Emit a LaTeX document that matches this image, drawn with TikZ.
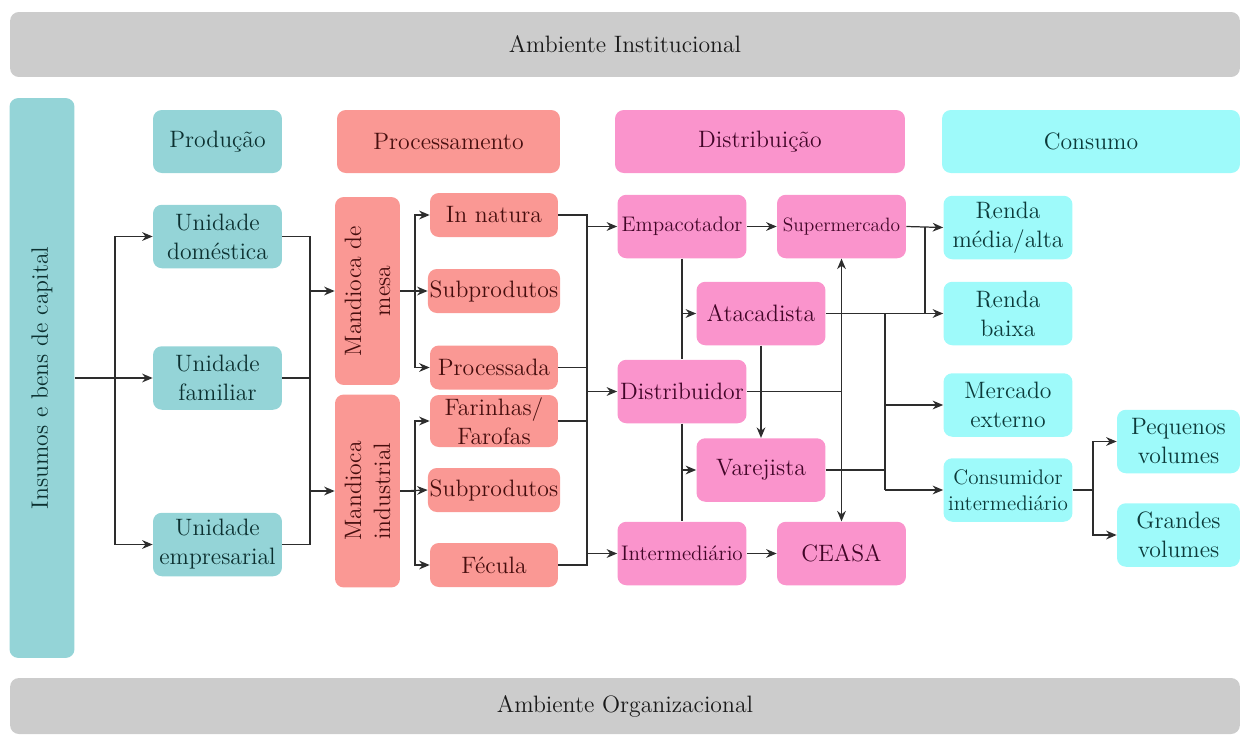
\documentclass[tikz,border=0pt]{standalone}
\usetikzlibrary{arrows.meta}
\definecolor{cteal}{RGB}{148,212,215}
\definecolor{csalmon}{RGB}{250,152,148}
\definecolor{cpink}{RGB}{250,148,204}
\definecolor{ccyan}{RGB}{158,250,250}
\definecolor{cgray}{RGB}{204,204,204}
\definecolor{tteal}{RGB}{12,48,48}
\definecolor{tsalmon}{RGB}{70,14,14}
\definecolor{tpink}{RGB}{66,6,40}
\definecolor{tcyan}{RGB}{12,58,58}
\definecolor{cline}{RGB}{45,45,45}
\begin{document}
\begin{tikzpicture}[x=0.02cm, y=-0.02cm]
    \tikzstyle{box} = [rounded corners=5pt, align=center, inner sep=1pt, font=\fontsize{13.5}{16.5}\selectfont]
    \tikzstyle{prod} = [box, fill=cteal, text=tteal]
    \tikzstyle{proc} = [box, fill=csalmon, text=tsalmon]
    \tikzstyle{dist} = [box, fill=cpink, text=tpink]
    \tikzstyle{cons} = [box, fill=ccyan, text=tcyan]
    \tikzstyle{band} = [box, fill=cgray, text=black!90, minimum width=24.6cm, font=\fontsize{13.5}{16}\selectfont]
    \tikzstyle{head} = [minimum height=1.26cm]
    \tikzstyle{tall} = [minimum width=2.58cm, minimum height=1.27cm]
    \tikzstyle{flat} = [minimum width=2.56cm, minimum height=0.88cm]
    \tikzstyle{small} = [font=\fontsize{12}{14.5}\selectfont]
    \tikzstyle{link} = [draw=cline, line width=0.7pt]
    \tikzstyle{arr} = [link, -{Stealth[length=6pt, width=5pt]}]
    \useasboundingbox (0,0) rectangle (1245,738);
    % ambientes
    \node[band, minimum height=1.3cm] (inst) at (625,44.5) {Ambiente Institucional};
    \node[band, minimum height=1.12cm] (org) at (625,706) {Ambiente Organizacional};
    \node[prod, rotate=90, minimum width=11.2cm, minimum height=1.3cm] (ins) at (42,378) {Insumos e bens de capital};
    % cabecalhos
    \node[prod, head, minimum width=2.58cm] (hprod) at (217.5,141.5) {Produção};
    \node[proc, head, minimum width=4.46cm] (hproc) at (448.5,141.5) {Processamento};
    \node[dist, head, minimum width=5.8cm] (hdist) at (760,141.5) {Distribuição};
    \node[cons, head, minimum width=5.96cm] (hcons) at (1091,141.5) {Consumo};
    % producao
    \node[prod, tall] (udom) at (217.5,236.5) {Unidade\\doméstica};
    \node[prod, tall] (ufam) at (217.5,378) {Unidade\\familiar};
    \node[prod, tall] (uemp) at (217.5,544.5) {Unidade\\empresarial};
    % processamento
    \node[proc, rotate=90, minimum width=3.76cm, minimum height=1.3cm] (mesa) at (367.5,291) {Mandioca de\\mesa};
    \node[proc, rotate=90, minimum width=3.86cm, minimum height=1.3cm] (ind) at (367.5,491) {Mandioca\\industrial};
    \node[proc, flat] (innat) at (494,215) {In natura};
    \node[proc, flat] (sub1) at (494,291) {Subprodutos};
    \node[proc, flat] (pro) at (494,367.5) {Processada};
    \node[proc, flat, minimum height=1.04cm] (far) at (494,421) {Farinhas/\\Farofas};
    \node[proc, flat] (sub2) at (494,490) {Subprodutos};
    \node[proc, flat] (fec) at (494,565) {Fécula};
    % distribuicao
    \node[dist, tall, small] (empac) at (682,226.5) {Empacotador};
    \node[dist, tall, font=\fontsize{11}{13}\selectfont] (super) at (841.5,226.5) {Supermercado};
    \node[dist, tall] (atac) at (761,313.5) {Atacadista};
    \node[dist, tall] (distr) at (682,391.5) {Distribuidor};
    \node[dist, tall] (varej) at (761,470) {Varejista};
    \node[dist, tall, small] (inter) at (682,553.5) {Intermediário};
    \node[dist, tall] (ceasa) at (841.5,553.5) {CEASA};
    % consumo
    \node[cons, tall] (rmed) at (1008,227.5) {Renda\\média/alta};
    \node[cons, tall] (rbai) at (1008,313.5) {Renda\\baixa};
    \node[cons, tall] (merc) at (1008,405) {Mercado\\externo};
    \node[cons, tall, small] (cint) at (1008,490) {Consumidor\\intermediário};
    \node[cons, tall, minimum width=2.46cm] (peq) at (1178.5,441.5) {Pequenos\\volumes};
    \node[cons, tall, minimum width=2.46cm] (gra) at (1178.5,535) {Grandes\\volumes};
    % ligacoes
    \coordinate (j1) at (115,378);
    \coordinate (j2) at (310,0);
    \coordinate (j3) at (415,0);
    \coordinate (j4) at (587,0);
    \coordinate (j5) at (925,0);
    \coordinate (j6) at (885,0);
    \coordinate (j7) at (1093,0);
    \draw[link] (ins.south |- j1) -- (j1);
    \draw[arr] (j1) |- (udom.west);
    \draw[arr] (j1) -- (ufam.west);
    \draw[arr] (j1) |- (uemp.west);
    \draw[link] (udom.east) -- (udom.east -| j2) -- (uemp.east -| j2) -- (uemp.east);
    \draw[link] (ufam.east) -- (ufam.east -| j2);
    \draw[arr] (mesa.north -| j2) -- (mesa.north);
    \draw[arr] (ind.north -| j2) -- (ind.north);
    \draw[link] (mesa.south) -- (mesa.south -| j3);
    \draw[arr] (mesa.south -| j3) |- (innat.west);
    \draw[arr] (mesa.south) -- (sub1.west);
    \draw[arr] (mesa.south -| j3) |- (pro.west);
    \draw[link] (ind.south) -- (ind.south -| j3);
    \draw[arr] (ind.south -| j3) |- (far.west);
    \draw[arr] (ind.south) -- (sub2.west);
    \draw[arr] (ind.south -| j3) |- (fec.west);
    \draw[link] (innat.east) -- (innat.east -| j4) -- (fec.east -| j4) -- (fec.east);
    \draw[link] (pro.east) -- (pro.east -| j4);
    \draw[link] (far.east) -- (far.east -| j4);
    \draw[arr] (empac.west -| j4) -- (empac.west);
    \draw[arr] (distr.west -| j4) -- (distr.west);
    \draw[arr] (inter.west -| j4) -- (inter.west);
    \draw[arr] (empac) -- (super);
    \draw[arr] (inter) -- (ceasa);
    \draw[link] (empac.south) -- (distr.north);
    \draw[arr] (empac.south |- atac.west) -- (atac.west);
    \draw[link] (distr.south) -- (inter.north);
    \draw[arr] (distr.south |- varej.west) -- (varej.west);
    \draw[arr] (atac.south) -- (varej.north);
    \draw[link, {Stealth[length=6pt, width=5pt]}-{Stealth[length=6pt, width=5pt]}] (super.south) -- (ceasa.north);
    \draw[link] (distr.east) -- (distr.east -| super.south);
    \draw[arr] (super.east) -- (rmed.west);
    \draw[link] (super.east -| j5) -- (rbai.west -| j5);
    \draw[arr] (atac.east) -- (rbai.west);
    \draw[link] (atac.east -| j6) -- (cint.west -| j6);
    \draw[link] (varej.east) -- (varej.east -| j6);
    \draw[arr] (merc.west -| j6) -- (merc.west);
    \draw[arr] (cint.west -| j6) -- (cint.west);
    \draw[link] (cint.east) -- (cint.east -| j7);
    \draw[arr] (cint.east -| j7) |- (peq.west);
    \draw[arr] (cint.east -| j7) |- (gra.west);
\end{tikzpicture}
\end{document}
